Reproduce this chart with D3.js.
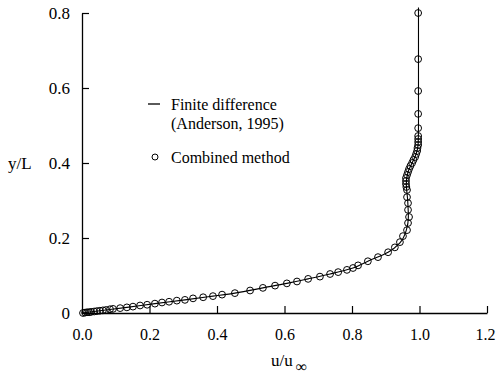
<!DOCTYPE html>
<html>
<head>
<meta charset="utf-8">
<script src="https://cdn.jsdelivr.net/npm/d3@7/dist/d3.min.js"></script>
<style>
    body { margin: 0; background: #fff; }
    svg { display: block; }
    text { font-family: "Liberation Serif", "Times New Roman", serif; fill: #000; }
</style>
</head>
<body>
<svg id="chart" width="496" height="378"></svg>
<script>
const WIDTH = 496;
const HEIGHT = 378;

const X_TICKS = [0, 0.2, 0.4, 0.6, 0.8, 1.0, 1.2];
const Y_TICKS = [0, 0.2, 0.4, 0.6, 0.8];

// finite difference profile (Anderson, 1995): [u/u_inf, y/L]
const fdLine = [
    [0, 0], [0.053, 0.006], [0.133, 0.015], [0.216, 0.025], [0.305, 0.035],
    [0.388, 0.045], [0.453, 0.053], [0.536, 0.067], [0.607, 0.079], [0.670, 0.091],
    [0.735, 0.104], [0.803, 0.120], [0.847, 0.138], [0.907, 0.162], [0.942, 0.187],
    [0.961, 0.221], [0.967, 0.256], [0.965, 0.300], [0.961, 0.345], [0.966, 0.376],
    [0.978, 0.400], [0.990, 0.424], [0.996, 0.450], [0.997, 0.500], [0.997, 0.815]
];

// combined method: [u/u_inf, y/L]
const combined = [
    [0.003, 0.000], [0.009, 0.001], [0.015, 0.002], [0.021, 0.002], [0.027, 0.003],
    [0.036, 0.004], [0.044, 0.005], [0.053, 0.006], [0.062, 0.007], [0.071, 0.008],
    [0.083, 0.010], [0.092, 0.011], [0.113, 0.013], [0.133, 0.015], [0.151, 0.017],
    [0.172, 0.020], [0.193, 0.022], [0.216, 0.025], [0.237, 0.028], [0.258, 0.030],
    [0.281, 0.033], [0.305, 0.035], [0.329, 0.039], [0.359, 0.042], [0.388, 0.045],
    [0.415, 0.049], [0.453, 0.053], [0.498, 0.060], [0.536, 0.067], [0.572, 0.073],
    [0.607, 0.079], [0.637, 0.084], [0.670, 0.091], [0.705, 0.097], [0.735, 0.104],
    [0.759, 0.109], [0.785, 0.115], [0.803, 0.120], [0.818, 0.127], [0.847, 0.138],
    [0.877, 0.149], [0.907, 0.162], [0.927, 0.175], [0.942, 0.189], [0.951, 0.205],
    [0.963, 0.221], [0.966, 0.240], [0.969, 0.256], [0.966, 0.275], [0.966, 0.293],
    [0.963, 0.309], [0.963, 0.328], [0.961, 0.336], [0.960, 0.344], [0.960, 0.352],
    [0.960, 0.360], [0.963, 0.368], [0.966, 0.376], [0.969, 0.384], [0.973, 0.392],
    [0.978, 0.400], [0.982, 0.408], [0.987, 0.416], [0.990, 0.424], [0.993, 0.432],
    [0.994, 0.440], [0.996, 0.448], [0.996, 0.456], [0.996, 0.464], [0.996, 0.472],
    [0.996, 0.493], [0.996, 0.531], [0.996, 0.592], [0.996, 0.677], [0.996, 0.800]
];

const svg = d3.select("#chart");

const x = d3.scaleLinear().domain([0, 1.2]).range([82, 487]);
const y = d3.scaleLinear().domain([0, 0.8]).range([313, 13]);

// axes — ticks point inward
const xAxis = svg.append("g")
    .attr("transform", `translate(0, ${y(0)})`)
    .call(d3.axisBottom(x)
        .tickValues(X_TICKS)
        .tickSizeInner(-7)
        .tickSizeOuter(0)
        .tickPadding(16)
        .tickFormat(d3.format(".1f")));

const yAxis = svg.append("g")
    .attr("transform", `translate(${x(0)}, 0)`)
    .call(d3.axisLeft(y)
        .tickValues(Y_TICKS)
        .tickSizeInner(-7)
        .tickSizeOuter(0)
        .tickPadding(12)
        .tickFormat(d => d === 0 ? "0" : d3.format(".1f")(d)));

[xAxis, yAxis].forEach(g => {
    g.attr("font-family", null);
    g.select(".domain").attr("stroke", "#000").attr("stroke-width", 1.3);
    g.selectAll(".tick line").attr("stroke", "#000").attr("stroke-width", 1.2);
    g.selectAll(".tick text")
        .style("font-family", "'Liberation Serif', serif")
        .attr("fill", "#000");
});
yAxis.selectAll(".tick text").attr("font-size", 17);
xAxis.selectAll(".tick text").attr("font-size", 16);
// last x label sits against the right edge
xAxis.selectAll(".tick text").filter(d => d === 1.2).attr("dx", -2);
xAxis.select(".tick line").remove();

// finite difference line
svg.append("path")
    .datum(fdLine)
    .attr("fill", "none")
    .attr("stroke", "#000")
    .attr("stroke-width", 1.1)
    .attr("d", d3.line()
        .x(d => x(d[0]))
        .y(d => y(d[1]))
        .curve(d3.curveMonotoneY));

// combined method markers
svg.append("g")
    .selectAll("circle")
    .data(combined)
    .join("circle")
    .attr("cx", d => x(d[0]))
    .attr("cy", d => y(d[1]))
    .attr("r", 3.4)
    .attr("fill", "none")
    .attr("stroke", "#000")
    .attr("stroke-width", 1);

// axis titles
svg.append("text")
    .attr("x", 8)
    .attr("y", 169)
    .attr("font-size", 17)
    .text("y/L");

const xt = svg.append("text")
    .attr("x", 271)
    .attr("y", 366)
    .attr("font-size", 17);
xt.append("tspan").text("u/u");
xt.append("tspan")
    .attr("dx", 3)
    .attr("dy", 6)
    .attr("font-size", 16)
    .text("\u221E");

// legend
const legend = svg.append("g");
legend.append("line")
    .attr("x1", 148).attr("x2", 160)
    .attr("y1", 104).attr("y2", 104)
    .attr("stroke", "#000")
    .attr("stroke-width", 1.3);
legend.append("text")
    .attr("x", 171).attr("y", 110)
    .attr("font-size", 16)
    .text("Finite difference");
legend.append("text")
    .attr("x", 171).attr("y", 129)
    .attr("font-size", 16)
    .text("(Anderson, 1995)");
legend.append("circle")
    .attr("cx", 155).attr("cy", 157)
    .attr("r", 3)
    .attr("fill", "none")
    .attr("stroke", "#000")
    .attr("stroke-width", 1);
legend.append("text")
    .attr("x", 171).attr("y", 163)
    .attr("font-size", 16)
    .text("Combined method");
</script>
</body>
</html>
